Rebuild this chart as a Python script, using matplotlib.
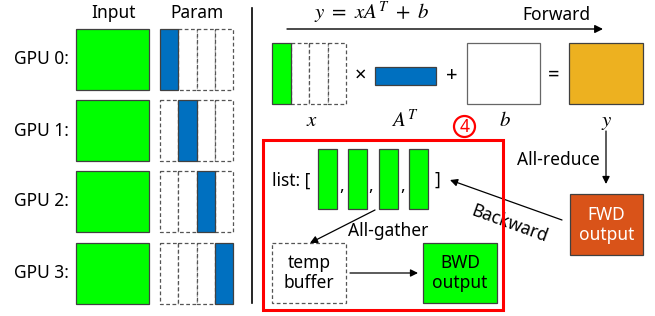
import matplotlib
matplotlib.use("Agg")
import matplotlib.pyplot as plt
from matplotlib.patches import Rectangle, Circle, FancyArrowPatch

plt.rcParams['font.family'] = ['Noto Sans', 'DejaVu Sans']
plt.rcParams['mathtext.fontset'] = 'stix'

# ---- content ----
gpu_labels = ["GPU 0:", "GPU 1:", "GPU 2:", "GPU 3:"]
param_shard = [0, 1, 2, 3]          # which param column each GPU owns
n_shards = 4
col_headers = ["Input", "Param"]
formula = r"$y\ =\ xA^T\ +\ b$"
forward_label = "Forward"
term_labels = [r"$x$", r"$A^T$", r"$b$", r"$y$"]
operators = ["×", "+", "="]
list_items = 4
step_label = "4"
allreduce_label = "All-reduce"
allgather_label = "All-gather"
backward_label = "Backward"
fwd_text = "FWD\noutput"
bwd_text = "BWD\noutput"
temp_text = "temp\nbuffer"

GREEN = "#00FF00"
BLUE = "#0070C0"
GOLD = "#EDB120"
ORANGE = "#D95319"
EDGE = "#404040"
DASH = "#555555"

fig = plt.figure(figsize=(6.55, 3.16), dpi=100)
ax = fig.add_axes([0, 0, 1, 1])
ax.set_xlim(0, 655)
ax.set_ylim(316, 0)
ax.axis('off')

FS = 12.5
MFS = 15

def box(x0, y0, x1, y1, fc="white", ec=EDGE, ls="-", lw=0.9, z=2):
    r = Rectangle((x0, y0), x1 - x0, y1 - y0, facecolor=fc, edgecolor=ec,
                  linestyle=ls, linewidth=lw, zorder=z)
    if ls != "-":
        r.set_linestyle((0, (3, 2)))
    ax.add_patch(r)
    return r

def arrow(x0, y0, x1, y1, lw=0.9, ms=12):
    a = FancyArrowPatch((x0, y0), (x1, y1), arrowstyle='-|>', mutation_scale=ms,
                        color='black', linewidth=lw, shrinkA=0, shrinkB=0, zorder=3)
    ax.add_patch(a)

# ---- left panel ----
ax.text(113, 13, col_headers[0], ha='center', va='center', fontsize=FS)
ax.text(197, 13, col_headers[1], ha='center', va='center', fontsize=FS)

tops = [29, 100, 171, 243]
h = 61
px0, px1 = 160, 233
cw = (px1 - px0) / n_shards
for i, lab in enumerate(gpu_labels):
    t = tops[i]
    ax.text(69, t + h / 2, lab, ha='right', va='center', fontsize=FS)
    box(76, t, 149, t + h, fc=GREEN)
    for c in range(n_shards):
        if c != param_shard[i]:
            box(px0 + c * cw, t, px0 + (c + 1) * cw, t + h, ec=DASH, ls="--", z=1)
    c = param_shard[i]
    box(px0 + c * cw, t, px0 + (c + 1) * cw, t + h, fc=BLUE, z=3)

# divider
ax.plot([252, 252], [8, 303], color='black', linewidth=1.2)

# ---- right panel: forward ----
ax.text(372, 13, formula, ha='center', va='center', fontsize=MFS)
ax.text(556, 15, forward_label, ha='center', va='center', fontsize=FS)
arrow(287, 29, 603, 29, lw=1.0, ms=12)

# x box
xx0, xx1 = 272, 346
xcw = (xx1 - xx0) / n_shards
for c in range(1, n_shards):
    box(xx0 + c * xcw, 43, xx0 + (c + 1) * xcw, 104, ec=DASH, ls="--", z=1)
box(xx0, 43, xx0 + xcw, 104, fc=GREEN, z=3)
# A^T
box(375, 67, 436, 85, fc=BLUE)
# b
box(467, 43, 540, 104, ec="#666666")
# y
box(569, 43, 643, 104, fc=GOLD)

for xo, op in zip([360, 452, 554], operators):
    ax.text(xo, 76, op, ha='center', va='center', fontsize=FS + 2)
for xl, lab in zip([312, 405, 505, 607], term_labels):
    ax.text(xl, 121, lab, ha='center', va='center', fontsize=MFS)

# circled step number
ax.add_patch(Circle((464.5, 126.5), 10.5, facecolor='white', edgecolor='#FF0000',
                    linewidth=1.6, zorder=4))
ax.text(464.5, 127, step_label, ha='center', va='center', fontsize=12.5, color='#FF0000',
        fontweight='bold', zorder=5)

# red frame
ax.add_patch(Rectangle((263, 140), 503 - 263, 310 - 140, facecolor='none',
                       edgecolor='#FF0000', linewidth=2.2, zorder=4))

# list
ax.text(272, 181, "list: [", ha='left', va='center', fontsize=FS)
lx = [318, 348, 379, 409]
for i in range(list_items):
    box(lx[i], 149, lx[i] + 19, 209, fc=GREEN)
for cx in [342, 371, 403]:
    ax.text(cx, 186, ",", ha='center', va='center', fontsize=FS)
ax.text(437, 180, "]", ha='center', va='center', fontsize=FS)

arrow(375, 210, 310, 243, lw=0.9, ms=11)
ax.text(388, 231, allgather_label, ha='center', va='center', fontsize=FS)

box(272, 243, 346, 303, ec=DASH, ls="--")
ax.text(309, 273, temp_text, ha='center', va='center', fontsize=FS, linespacing=1.15)
arrow(350, 273, 418, 273, lw=0.9, ms=11)
box(423, 243, 497, 303, fc=GREEN)
ax.text(460, 273, bwd_text, ha='center', va='center', fontsize=FS, linespacing=1.15)

# all-reduce
arrow(606, 131, 606, 184, lw=0.9, ms=11)
ax.text(558, 160, allreduce_label, ha='center', va='center', fontsize=FS)

# FWD output
box(570, 194, 643, 255, fc=ORANGE)
ax.text(606.5, 225, fwd_text, ha='center', va='center', fontsize=FS, color='white',
        linespacing=1.15)

# backward
arrow(562, 220, 450, 180, lw=0.9, ms=11)
ax.text(510, 224, backward_label, ha='center', va='center', fontsize=FS, rotation=-20,
        rotation_mode='anchor')

fig.savefig("out.png", dpi=100)
